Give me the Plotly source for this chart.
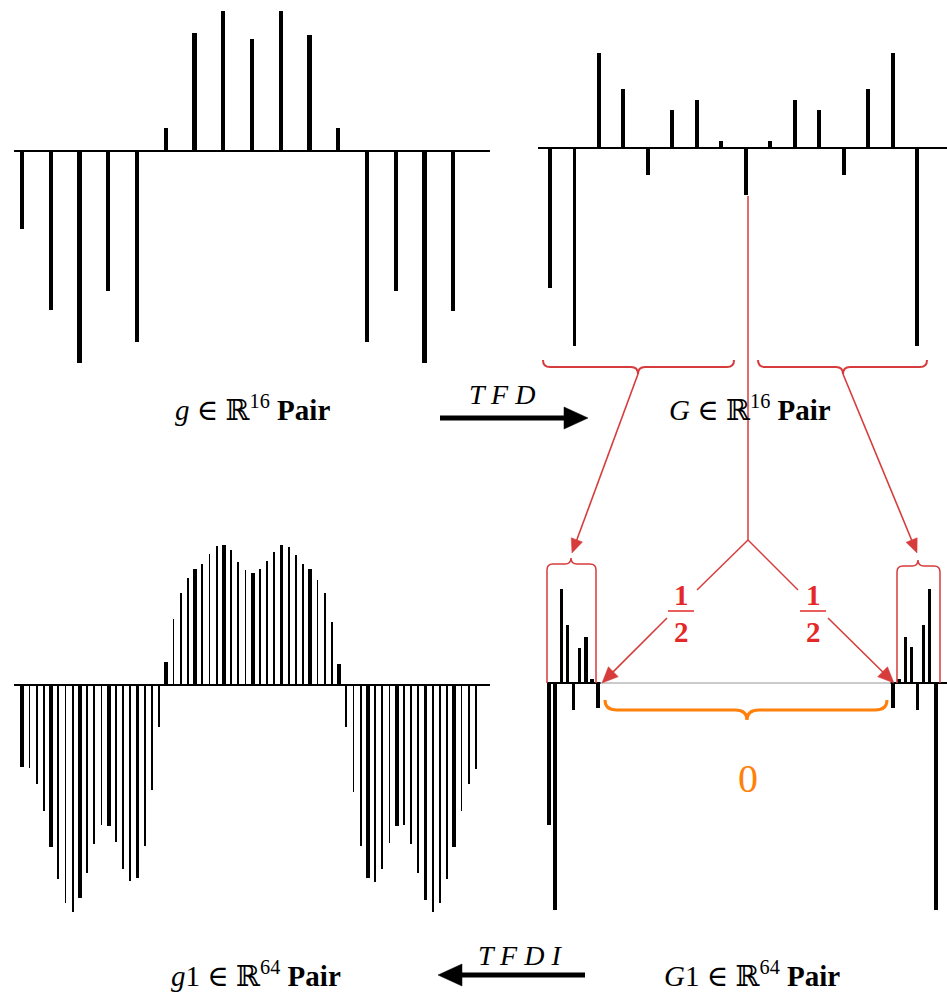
import math
import plotly.graph_objects as go

# ---------------- data (amplitudes) ----------------
g16 = [-78, -159, -212, -140, -191, 23, 118, 140, 112, 140, 116, 23, -191, -140, -212, -160]
G16 = [-140, -198, 95, 59, -27, 38, 48, 7, -47, 7, 48, 38, -27, 59, 95, -198]
g64 = [-82, -83, -99, -126, -162, -194, -218, -227, -213, -188, -159, -140, -141, -157, -184, -196,
       -193, -161, -105, -42, 23, 66, 92, 107, 116, 121, 131, 139, 140, 135, 123, 115,
       112, 116, 124, 133, 140, 138, 130, 121, 116, 105, 92, 63, 21, -42, -107, -161,
       -193, -197, -184, -158, -141, -140, -159, -188, -215, -227, -218, -194, -162, -126, -99, -84]
G64 = [-142, -227, 94, 58, -27, 35, 46, 4, -25, 0, 0, 0, 0, 0, 0, 0,
       0, 0, 0, 0, 0, 0, 0, 0, 0, 0, 0, 0, 0, 0, 0, 0,
       0, 0, 0, 0, 0, 0, 0, 0, 0, 0, 0, 0, 0, 0, 0, 0,
       0, 0, 0, 0, 0, 0, 0, 0, -25, 4, 46, 36, -27, 58, 94, -227]

labels = {
    "g": "<i>g</i> ∈ ℝ<sup>16</sup> <b>Pair</b>",
    "G": "<i>G</i> ∈ ℝ<sup>16</sup> <b>Pair</b>",
    "g1": "<i>g</i>1 ∈ ℝ<sup>64</sup> <b>Pair</b>",
    "G1": "<i>G</i>1 ∈ ℝ<sup>64</sup> <b>Pair</b>",
}
op_fwd = "<i>T F D</i>"
op_inv = "<i>T F D I</i>"

W, H = 947, 1000
RED = "rgb(228,40,40)"
RED_LINE = "rgb(215,60,60)"
ORANGE = "rgb(255,128,10)"
FONT = "Liberation Serif, DejaVu Serif, serif"


def P(x, y):
    return x / W, 1 - y / H


def fmt(pt):
    x, y = P(*pt)
    return f"{x:.5f},{y:.5f}"


def path(cmds):
    s = []
    for c in cmds:
        s.append(c[0] + " " + " ".join(fmt(p) for p in c[1:]))
    return " ".join(s)


fig = go.Figure()

# stems
fig.add_trace(go.Bar(x=list(range(16)), y=g16, width=0.14, marker=dict(color="black", line=dict(width=0)),
                     xaxis="x", yaxis="y"))
fig.add_trace(go.Bar(x=list(range(16)), y=G16, width=0.16, marker=dict(color="black", line=dict(width=0)),
                     xaxis="x2", yaxis="y2"))
fig.add_trace(go.Bar(x=list(range(64)), y=g64, width=[0.55 if i % 4 == 0 else 0.26 for i in range(64)],
                     marker=dict(color="black", line=dict(width=0)), xaxis="x3", yaxis="y3"))
fig.add_trace(go.Bar(x=list(range(64)), y=G64, width=0.55, marker=dict(color="black", line=dict(width=0)),
                     xaxis="x4", yaxis="y4"))

ax_common = dict(showgrid=False, showticklabels=False, ticks="", showline=False, zeroline=False, fixedrange=True)
yz = dict(showgrid=False, showticklabels=False, ticks="", showline=False, zeroline=True,
          zerolinecolor="black", zerolinewidth=2, fixedrange=True)

fig.update_layout(
    width=W, height=H, margin=dict(l=0, r=0, t=0, b=0), autosize=False,
    paper_bgcolor="white", plot_bgcolor="white", showlegend=False, bargap=0,
    xaxis=dict(domain=[14 / W, 490 / W], range=[-0.278, 16.278], anchor="y", **ax_common),
    yaxis=dict(domain=[0.62, 1.0], range=[-229.3, 150.7], anchor="x", **yz),
    xaxis2=dict(domain=[538 / W, 1.0], range=[-0.49, 16.22], anchor="y2", **ax_common),
    yaxis2=dict(domain=[0.62, 1.0], range=[-231.7, 148.3], anchor="x2", **yz),
    xaxis3=dict(domain=[14 / W, 490 / W], range=[-1.15, 64.96], anchor="y3", **ax_common),
    yaxis3=dict(domain=[0.07, 0.48], range=[-245, 165], anchor="x3", **yz),
    xaxis4=dict(domain=[547 / W, 1.0], range=[-0.33, 64.8], anchor="y4", **ax_common),
    yaxis4=dict(domain=[0.07, 0.48], range=[-247, 163], anchor="x4", **ax_common),
)

shapes = []
# bottom-right axis: black at clusters, thin gray in the zero band
shapes.append(dict(type="line", xref="x4", yref="y4", x0=-0.33, x1=8.4, y0=0, y1=0,
                   line=dict(color="black", width=2)))
shapes.append(dict(type="line", xref="x4", yref="y4", x0=8.4, x1=55.6, y0=0, y1=0,
                   line=dict(color="rgb(150,150,150)", width=1)))
shapes.append(dict(type="line", xref="x4", yref="y4", x0=55.6, x1=64.8, y0=0, y1=0,
                   line=dict(color="black", width=2)))


def pline(x0, y0, x1, y1, color, width):
    a, b = P(x0, y0)
    c, d = P(x1, y1)
    shapes.append(dict(type="line", xref="paper", yref="paper", x0=a, y0=b, x1=c, y1=d,
                       line=dict(color=color, width=width), layer="above"))


def arrow(x0, y0, x1, y1, color, width, hl, hw):
    dx, dy = x1 - x0, y1 - y0
    L = math.hypot(dx, dy)
    ux, uy = dx / L, dy / L
    bx, by = x1 - ux * hl, y1 - uy * hl
    pline(x0, y0, bx + ux * 1, by + uy * 1, color, width)
    px_, py_ = -uy, ux
    tri = path([("M", (x1, y1)), ("L", (bx + px_ * hw / 2, by + py_ * hw / 2)),
                ("L", (bx - px_ * hw / 2, by - py_ * hw / 2)), ("Z",)])
    shapes.append(dict(type="path", xref="paper", yref="paper", path=tri,
                       fillcolor=color, line=dict(color=color, width=0.5), layer="above"))


def under_brace(x0, x1, xm, yt, yh, r, color, width):
    p = path([("M", (x0, yt)), ("Q", (x0, yh), (x0 + r, yh)), ("L", (xm - r, yh)),
              ("Q", (xm, yh), (xm, yh + r)), ("Q", (xm, yh), (xm + r, yh)),
              ("L", (x1 - r, yh)), ("Q", (x1, yh), (x1, yt))])
    shapes.append(dict(type="path", xref="paper", yref="paper", path=p,
                       line=dict(color=color, width=width), layer="above"))


def over_bracket(x0, x1, xm, ybase, yt, r, color, width):
    p = path([("M", (x0, ybase)), ("L", (x0, yt + r)), ("Q", (x0, yt), (x0 + r, yt)),
              ("L", (xm - r, yt)), ("Q", (xm, yt), (xm, yt - r)), ("Q", (xm, yt), (xm + r, yt)),
              ("L", (x1 - r, yt)), ("Q", (x1, yt), (x1, yt + r)), ("L", (x1, ybase))])
    shapes.append(dict(type="path", xref="paper", yref="paper", path=p,
                       line=dict(color=color, width=width), layer="above"))


# red braces under the top-right spectrum
under_brace(543, 734, 638, 360, 367, 7, RED_LINE, 2)
under_brace(758, 927, 843, 360, 367, 7, RED_LINE, 2)
# arrows from braces to the bottom clusters
arrow(638, 374, 572, 553, RED_LINE, 1.6, 14, 12)
arrow(843, 374, 917, 553, RED_LINE, 1.6, 14, 12)
# central line from G[8]
pline(748, 196, 748, 540, RED_LINE, 1.5)
pline(748, 540, 697, 590, RED_LINE, 1.5)
pline(748, 540, 798, 590, RED_LINE, 1.5)
# half arrows
arrow(667, 618, 602, 683, RED_LINE, 1.6, 16, 14)
arrow(828, 618, 894, 683, RED_LINE, 1.6, 16, 14)
# brackets around the clusters
over_bracket(547, 596, 571, 683, 564, 6, RED_LINE, 1.5)
over_bracket(897, 940, 918, 683, 566, 6, RED_LINE, 1.5)
# orange zero brace
p = path([("M", (605, 700)), ("Q", (605, 710), (617, 710)), ("L", (735, 710)),
          ("Q", (747, 710), (747, 720)), ("Q", (747, 710), (759, 710)), ("L", (875, 710)),
          ("Q", (887, 710), (887, 700))])
shapes.append(dict(type="path", xref="paper", yref="paper", path=p,
                   line=dict(color=ORANGE, width=3), layer="above"))
# fraction bars
pline(668, 611, 694, 611, RED, 1.5)
pline(800, 611, 826, 611, RED, 1.5)

# black transform arrows
arrow(440, 418, 588, 418, "black", 5, 24, 22)
arrow(585, 975, 438, 975, "black", 5, 24, 22)

fig.update_layout(shapes=shapes)

ann = []


def text(x, y, s, size, color="black", **kw):
    a, b = P(x, y)
    ann.append(dict(x=a, y=b, xref="paper", yref="paper", text=s, showarrow=False,
                    xanchor="center", yanchor="middle",
                    font=dict(family=FONT, size=size, color=color), **kw))


text(253, 408, labels["g"], 29)
text(750, 408, labels["G"], 29)
text(256, 974, labels["g1"], 29)
text(752, 974, labels["G1"], 29)
text(502, 394, op_fwd, 28)
text(520, 955, op_inv, 28)
text(681, 595, "<b>1</b>", 29, RED)
text(681, 632, "<b>2</b>", 29, RED)
text(813, 595, "<b>1</b>", 29, RED)
text(813, 632, "<b>2</b>", 29, RED)
text(748, 778, "0", 40, ORANGE)

fig.update_layout(annotations=ann)
fig.write_html("out.html", config={"displayModeBar": False, "staticPlot": True},
               post_script="document.body.style.margin='0';document.body.style.padding='0';")
